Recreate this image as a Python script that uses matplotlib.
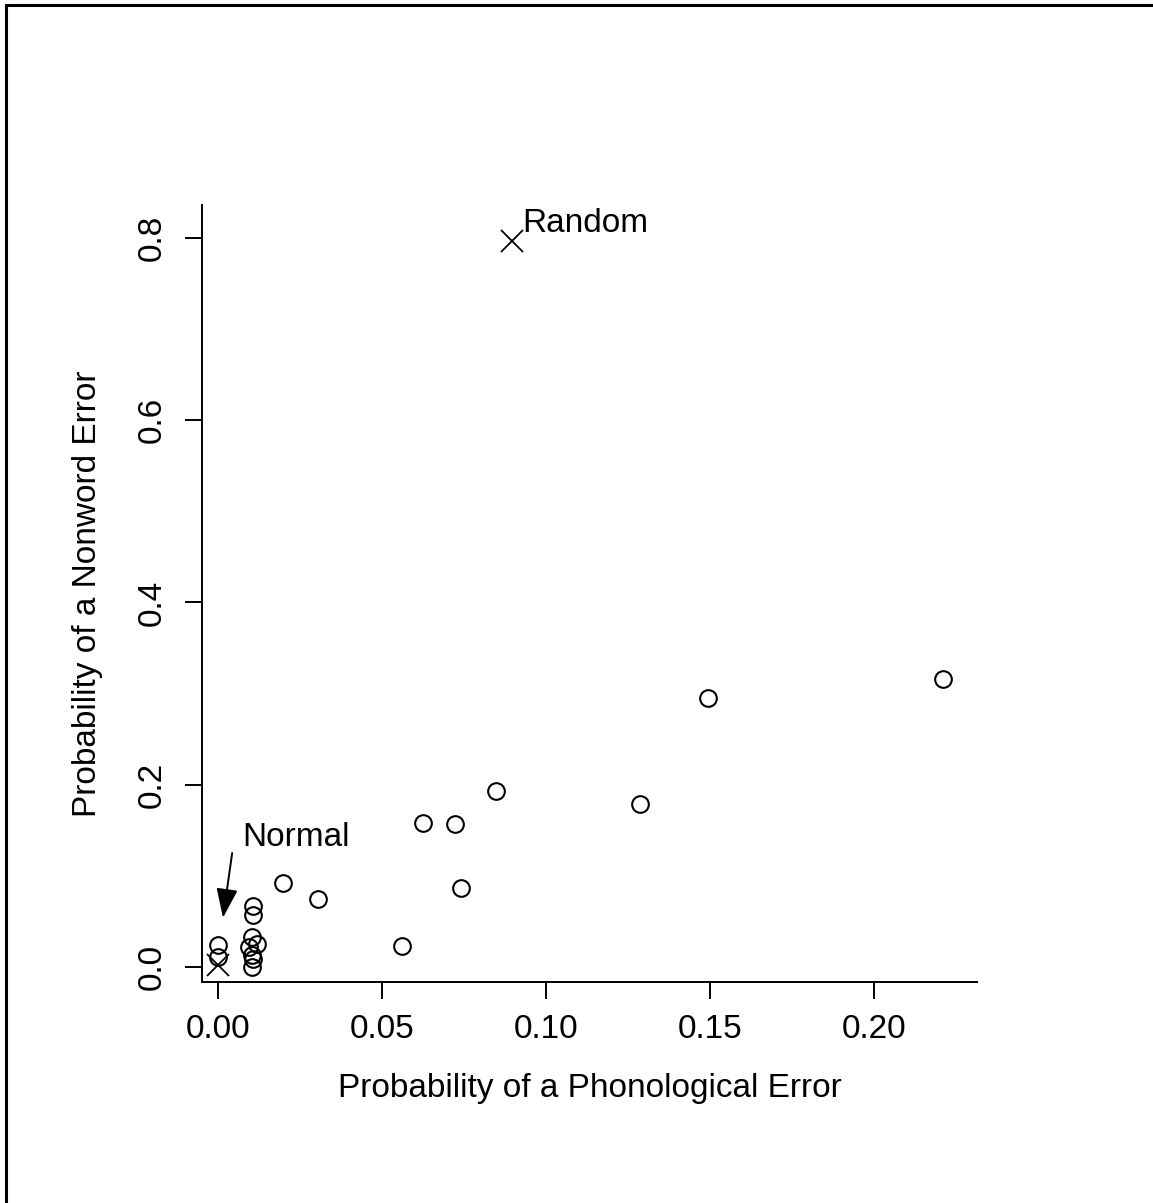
import matplotlib
matplotlib.use("Agg")
import matplotlib.pyplot as plt
from matplotlib.patches import Rectangle

plt.rcParams['font.family'] = ['Liberation Sans', 'DejaVu Sans']

# patients: probability of phonological vs nonword error
phon_err = [0.0, 0.0, 0.0107, 0.0107, 0.0104, 0.012, 0.0095, 0.0104, 0.0107,
            0.0104, 0.0198, 0.0305, 0.0561, 0.0625, 0.0722, 0.0741, 0.0848,
            0.1287, 0.1494, 0.221]
nonword_err = [0.024, 0.011, 0.067, 0.057, 0.033, 0.025, 0.022, 0.013, 0.009,
               0.0, 0.092, 0.075, 0.023, 0.158, 0.157, 0.087, 0.193,
               0.179, 0.295, 0.316]

# reference models
model_names = ['Normal', 'Random']
model_phon = [0.0, 0.0896]
model_nonword = [0.002, 0.796]

x_ticks = [0.00, 0.05, 0.10, 0.15, 0.20]
y_ticks = [0.0, 0.2, 0.4, 0.6, 0.8]

W, H = 1153, 1203
fig = plt.figure(figsize=(W / 100, H / 100), dpi=100)
ax = fig.add_axes([202 / W, 1 - 982 / H, (977 - 202) / W, (982 - 205) / H])

ax.plot(phon_err, nonword_err, 'o', mfc='none', mec='black', ms=12, mew=1.5)
ax.plot(model_phon, model_nonword, 'x', color='black', ms=16, mew=1.3)

ax.set_xlim(-0.0049, 0.2314)
ax.set_ylim(-0.0165, 0.836)
ax.set_xticks(x_ticks)
ax.set_xticklabels(['%.2f' % v for v in x_ticks])
ax.set_yticks(y_ticks)
ax.set_yticklabels(['%.1f' % v for v in y_ticks], rotation=90, va='center')
ax.tick_params(labelsize=24, length=12, width=1.4)
ax.tick_params(axis='x', pad=11)
ax.tick_params(axis='y', pad=13)
for side in ['top', 'right']:
    ax.spines[side].set_visible(False)
for side in ['left', 'bottom']:
    ax.spines[side].set_linewidth(1.4)

ax.set_xlabel('Probability of a Phonological Error', fontsize=24, labelpad=20)
ax.set_ylabel('Probability of a Nonword Error', fontsize=24, labelpad=24)

ax.text(0.0927, 0.806, model_names[1], fontsize=24, ha='left', va='baseline')
ax.text(0.0073, 0.133, model_names[0], fontsize=24, ha='left', va='baseline')
ax.annotate('', xy=(0.0015, 0.054), xytext=(0.0043, 0.125),
            arrowprops=dict(arrowstyle='-|>,head_length=0.6,head_width=0.22',
                            color='black', lw=1.4,
                            mutation_scale=30, shrinkA=0, shrinkB=0))

# outer frame (runs off the bottom and right edges)
fig.patches.append(Rectangle((6 / W, -0.1), 1.2, 1 - 5 / H + 0.1,
                             transform=fig.transFigure, fill=False,
                             ec='black', lw=2.2))

fig.savefig('out.png', dpi=100, facecolor='white')
